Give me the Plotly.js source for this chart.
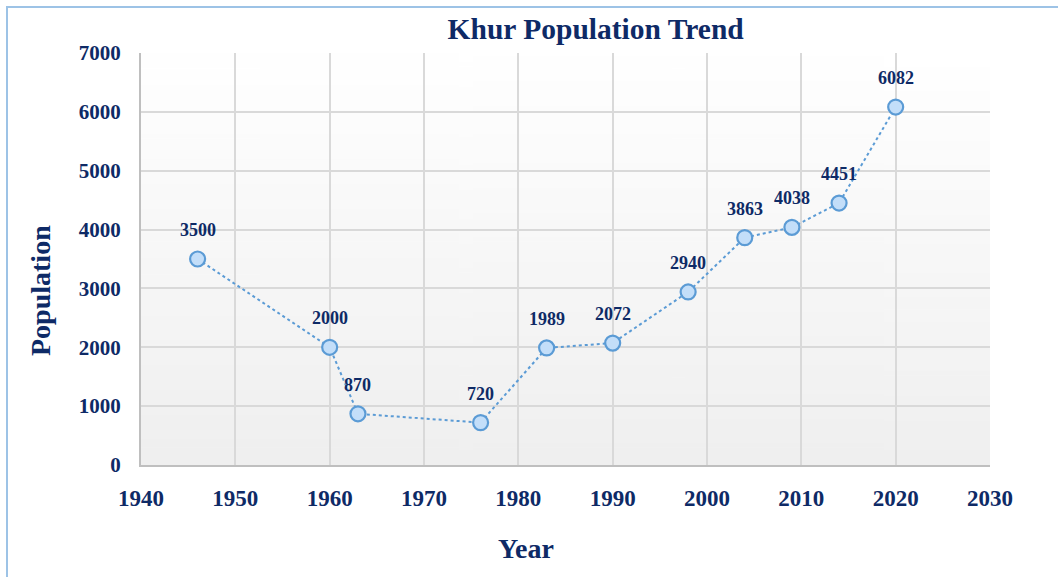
<!DOCTYPE html>
<html>
<head>
<meta charset="utf-8">
<script src="https://cdn.plot.ly/plotly-3.0.1.min.js"></script>
<style>
html,body{margin:0;padding:0;background:#fff;}
#chart{width:1058px;height:577px;position:relative;}
#frame{position:absolute;left:6px;top:6px;width:1060px;height:580px;border-left:2px solid #9dc3e6;border-top:2px solid #9dc3e6;pointer-events:none;}
</style>
</head>
<body>
<div id="chart"></div>
<div id="frame"></div>
<script>
const years = [1946, 1960, 1963, 1976, 1983, 1990, 1998, 2004, 2009, 2014, 2020];
const population = [3500, 2000, 870, 720, 1989, 2072, 2940, 3863, 4038, 4451, 6082];
const labels = population.map(String);
const titleText = "Khur Population Trend";
const xTitle = "Year";
const yTitle = "Population";

// vertical gradient background for plot area
const cv = document.createElement('canvas');
cv.width = 4; cv.height = 200;
const ctx = cv.getContext('2d');
const g = ctx.createLinearGradient(0, 0, 0, 200);
g.addColorStop(0, '#ffffff');
g.addColorStop(1, '#efefef');
ctx.fillStyle = g; ctx.fillRect(0, 0, 4, 200);
const bg = cv.toDataURL();

const navy = '#0e2a66';
const font = 'Liberation Serif, Times New Roman, serif';

const trace = {
  x: years, y: population, type: 'scatter', mode: 'lines+markers',
  line: {color: '#5b9bd5', width: 2, dash: 'dot'},
  marker: {size: 15, color: '#c3def9', line: {color: '#5b9bd5', width: 2.2}},
  hoverinfo: 'skip'
};

const annotations = years.map((yr, i) => ({
  x: yr, y: population[i], text: '<b>' + labels[i] + '</b>', showarrow: false,
  yshift: 29, font: {family: font, size: 18, color: navy}
}));
annotations.push({
  xref: 'paper', yref: 'paper', x: (526 - 141) / 849, y: -(548 - 465) / 412,
  text: '<b>' + xTitle + '</b>', showarrow: false, xanchor: 'center', yanchor: 'middle',
  font: {family: font, size: 28, color: navy}
});
annotations.push({
  xref: 'paper', yref: 'paper', x: -(141 - 40) / 849, y: (465 - 291) / 412,
  text: '<b>' + yTitle + '</b>', showarrow: false, xanchor: 'center', yanchor: 'middle', textangle: -90,
  font: {family: font, size: 28, color: navy}
});

const layout = {
  width: 1058, height: 577,
  margin: {l: 141, r: 68, t: 53, b: 112},
  paper_bgcolor: 'rgba(0,0,0,0)', plot_bgcolor: 'rgba(0,0,0,0)',
  showlegend: false,
  title: {text: '<b>' + titleText + '</b>', font: {family: font, size: 29.5, color: navy}, x: 0.563, xanchor: 'center', y: 0.95, yanchor: 'middle'},
  xaxis: {
    range: [1940, 2030], dtick: 10, tick0: 1940,
    showgrid: true, gridcolor: '#d9d9d9', gridwidth: 2,
    showline: true, linecolor: '#bfbfbf', linewidth: 2, mirror: false,
    ticks: 'outside', ticklen: 11, tickcolor: 'rgba(0,0,0,0)',
    tickfont: {family: font, size: 23, color: navy, weight: 'bold'},
    zeroline: false
  },
  yaxis: {
    range: [0, 7000], dtick: 1000,
    showgrid: true, gridcolor: '#d9d9d9', gridwidth: 2,
    showline: true, linecolor: '#bfbfbf', linewidth: 2,
    ticks: 'outside', ticklen: 14, tickcolor: 'rgba(0,0,0,0)',
    tickfont: {family: font, size: 21, color: navy, weight: 'bold'},
    zeroline: false
  },
  images: [{source: bg, xref: 'paper', yref: 'paper', x: 0, y: 1, sizex: 1, sizey: 1, sizing: 'stretch', layer: 'below', xanchor: 'left', yanchor: 'top'}],
  annotations: annotations
};

Plotly.newPlot('chart', [trace], layout, {staticPlot: true, displayModeBar: false});
</script>
</body>
</html>
